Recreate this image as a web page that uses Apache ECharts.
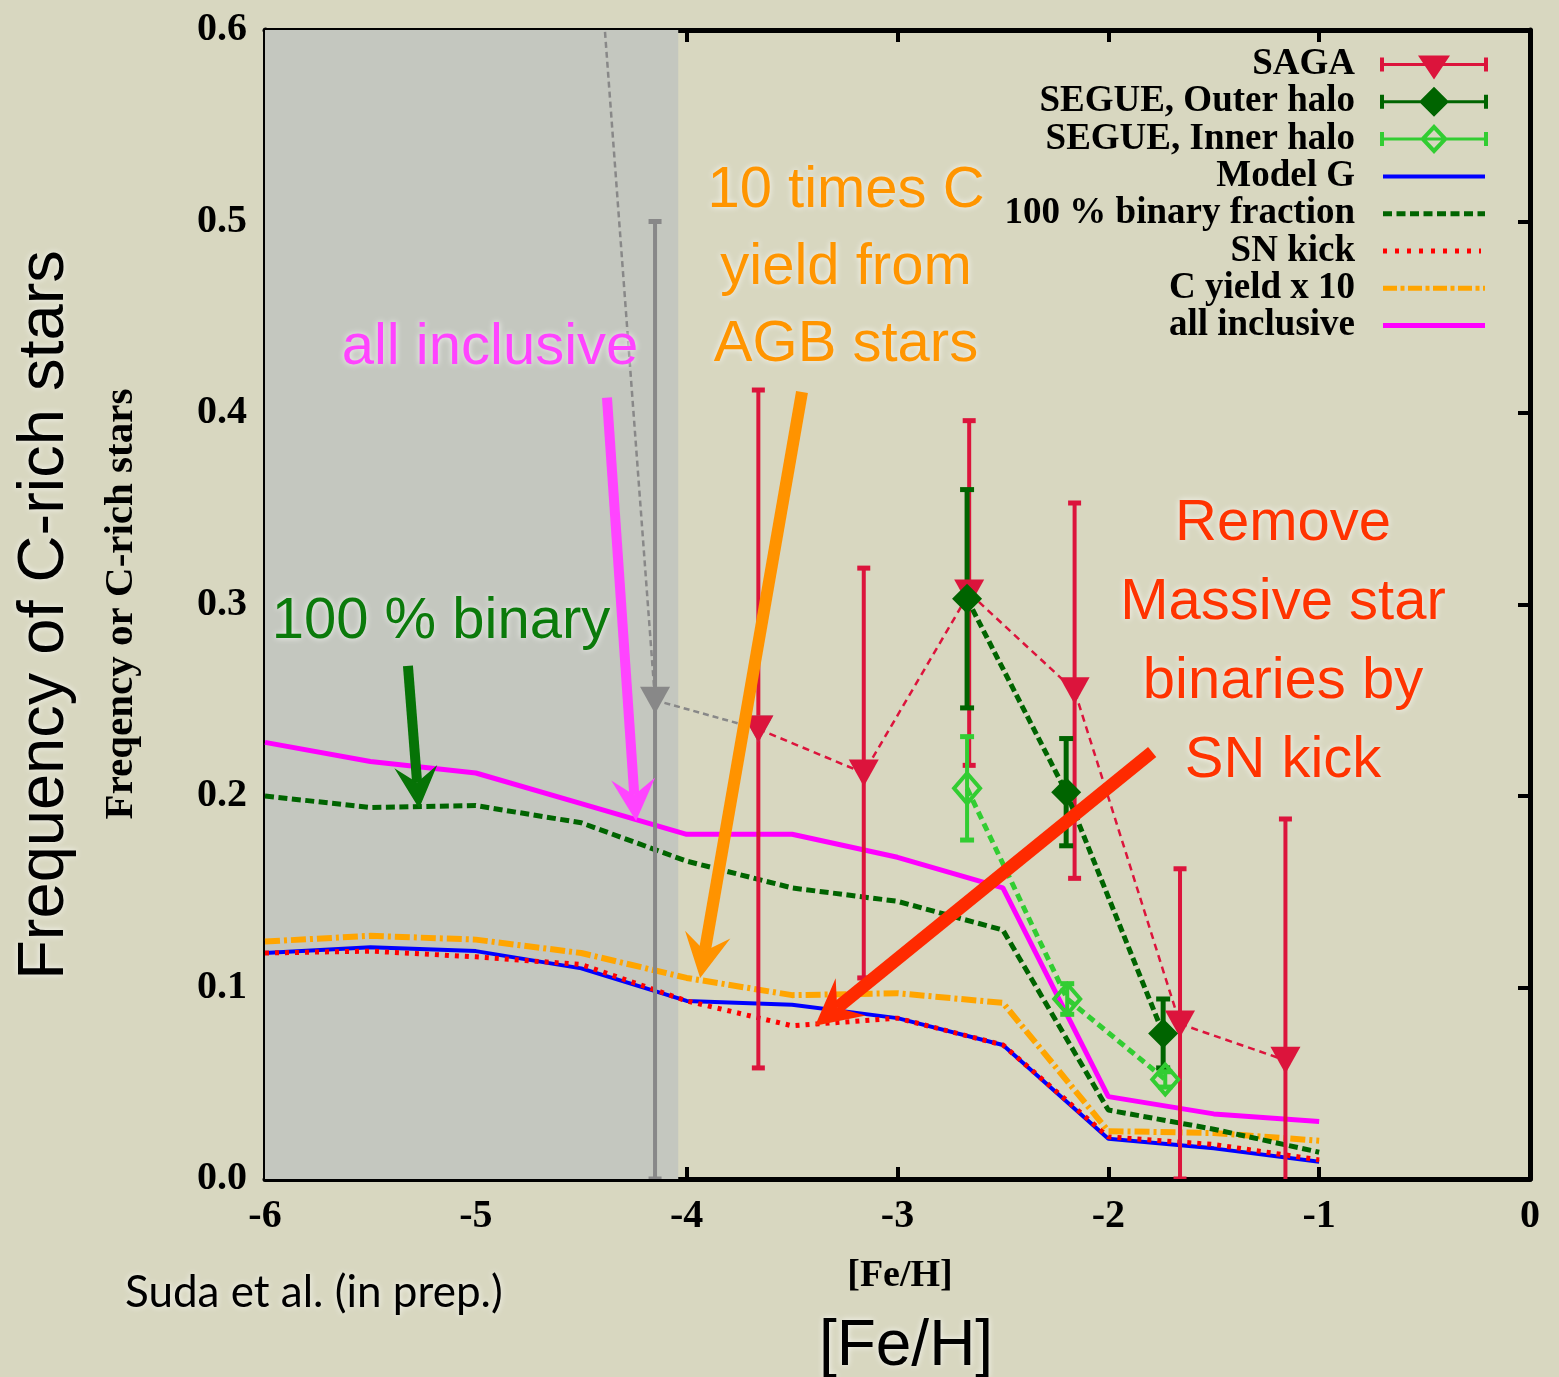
<!DOCTYPE html>
<html>
<head>
<meta charset="utf-8">
<title>Frequency of C-rich stars</title>
<script src="https://cdn.jsdelivr.net/npm/echarts@6/dist/echarts.min.js"></script>
<style>
  html, body { margin: 0; padding: 0; background: #d8d7c0; }
  #main { width: 1559px; height: 1377px; }
</style>
</head>
<body>
<div id="main"></div>
<script>
// ---- data ----
// model curves, [Fe/H] grid
const modelFeH = [-6, -5.5, -5, -4.5, -4, -3.5, -3, -2.5, -2, -1.5, -1];
const modelG = [0.118, 0.121, 0.119, 0.110, 0.093, 0.091, 0.084, 0.070, 0.021, 0.016, 0.009];
const binary100 = [0.200, 0.194, 0.195, 0.186, 0.166, 0.152, 0.145, 0.130, 0.036, 0.026, 0.014];
const snKick = [0.118, 0.119, 0.116, 0.112, 0.093, 0.080, 0.084, 0.070, 0.022, 0.018, 0.010];
const cYield10 = [0.124, 0.127, 0.125, 0.118, 0.105, 0.096, 0.097, 0.092, 0.025, 0.024, 0.020];
const allInclusive = [0.228, 0.218, 0.212, 0.196, 0.180, 0.180, 0.168, 0.152, 0.043, 0.034, 0.030];

// SAGA database
const sagaFeH = [-3.66, -3.16, -2.66, -2.16, -1.66, -1.16];
const sagaFrac = [0.235, 0.212, 0.306, 0.255, 0.081, 0.062];
const sagaErr = [0.177, 0.107, 0.090, 0.098, 0.081, 0.126];
// SAGA bins inside the shaded (uncertain) region
const sagaLowFeH = [-4.66, -4.15];
const sagaLowFrac = [1.0, 0.25];
const sagaLowErr = [0, 0.25];

// SEGUE
const outerFeH = [-2.67, -2.20, -1.74];
const outerFrac = [0.303, 0.202, 0.076];
const outerErr = [0.057, 0.028, 0.018];
const innerFeH = [-2.67, -2.195, -1.73];
const innerFrac = [0.204, 0.094, 0.052];
const innerErr = [0.027, 0.008, 0.004];

// shaded [Fe/H] range
const shadeFeH = [-6, -4.04];

// axis ticks
const xTicks = [-6, -5, -4, -3, -2, -1, 0];
const yTicks = [0, 0.1, 0.2, 0.3, 0.4, 0.5, 0.6];

// ---- chart ----
const chart = echarts.init(document.getElementById('main'));

const pairs = (xs, ys) => xs.map((x, i) => [x, ys[i]]);

function errorBars(name, xs, ys, errs, color, width, capW) {
    return {
        type: 'custom',
        name: name,
        z: 3,
        clip: true,
        silent: true,
        data: xs.map((x, i) => [x, ys[i] - errs[i], ys[i] + errs[i], errs[i]]),
        encode: { x: 0, y: [1, 2] },
        renderItem: function (params, api) {
            if (!api.value(3)) return null;
            const lo = api.coord([api.value(0), api.value(1)]);
            const hi = api.coord([api.value(0), api.value(2)]);
            return {
                type: 'group',
                children: [
                    { type: 'line', shape: { x1: lo[0], y1: lo[1], x2: hi[0], y2: hi[1] }, style: { stroke: color, lineWidth: width } },
                    { type: 'rect', shape: { x: hi[0] - capW / 2, y: hi[1] - 2.5, width: capW, height: 5 }, style: { fill: color } },
                    { type: 'rect', shape: { x: lo[0] - capW / 2, y: lo[1] - 2.5, width: capW, height: 5 }, style: { fill: color } }
                ]
            };
        }
    };
}

// legend icons (path units = pixels of a 128 x 30 icon)
const IW = 128, IH = 30, CY = 15;
const box = (x, y, w, h) => `M${x} ${y}h${w}v${h}h${-w}z`;
const frame = () => box(0, 0, 0.01, 0.01) + box(IW - 0.01, IH - 0.01, 0.01, 0.01);
function dashRow(pattern, x0, x1, th) {
    let s = '', x = x0, i = 0;
    while (x < x1 - 0.5) {
        const seg = pattern[i % pattern.length];
        if (i % 2 === 0) s += box(x, CY - th / 2, Math.min(seg, x1 - x), th);
        x += seg; i++;
    }
    return s;
}
const errIcon = marker => 'path://' + frame() + box(20, CY - 1.5, 108, 3) + box(20, CY - 7, 4, 14) + box(124, CY - 7, 4, 14) + marker;
const lineIcon = body => 'path://' + frame() + body;

const legendItems = [
    { name: 'SAGA', icon: errIcon('M58 6h32l-16 24z'), itemStyle: { color: '#dc143c' } },
    { name: 'SEGUE, Outer halo', icon: errIcon('M74 0l15 15l-15 15l-15 -15z'), itemStyle: { color: '#006400' } },
    { name: 'SEGUE, Inner halo', icon: errIcon('M74 0l14 15l-14 15l-14 -15z M74 6l-8.5 9l8.5 9l8.5 -9z'), itemStyle: { color: '#32cd32' } },
    { name: 'Model G', icon: lineIcon(box(23, CY - 2, 102, 4)), itemStyle: { color: '#0000ff' } },
    { name: '100 % binary fraction', icon: lineIcon(dashRow([9, 4.5], 23, 125, 5)), itemStyle: { color: '#006400' } },
    { name: 'SN kick', icon: lineIcon(dashRow([4, 8], 23, 121, 5)), itemStyle: { color: '#ff0000' } },
    { name: 'C yield x 10', icon: lineIcon(dashRow([14, 3.5, 4, 3.5], 23, 125, 5)), itemStyle: { color: '#ffa500' } },
    { name: 'all inclusive', icon: lineIcon(box(23, CY - 2.5, 102, 5)), itemStyle: { color: '#ff00ff' } }
];

const serif = 'Liberation Serif';
const sans = 'Liberation Sans';

function valueAxis(pos, min, max, interval, showLabel) {
    return {
        type: 'value', position: pos, min: min, max: max, interval: interval,
        axisLine: { show: true, onZero: false, lineStyle: { color: '#000', width: 5 } },
        axisTick: { show: true, inside: true, length: 12, lineStyle: { color: '#000', width: 4 } },
        splitLine: { show: false },
        axisLabel: {
            show: showLabel, margin: 18, fontFamily: serif, fontWeight: 'bold', fontSize: 40, color: '#000',
            formatter: (pos === 'left' || pos === 'right') ? v => v.toFixed(1) : v => String(v)
        }
    };
}

const modelLine = (name, data, color, width, type, z) => ({
    type: 'line', name: name, data: pairs(modelFeH, data), symbol: 'none', z: z,
    lineStyle: { color: color, width: width, type: type }, itemStyle: { color: color }
});

const option = {
    backgroundColor: '#d8d7c0',
    animation: false,
    grid: { left: 265, right: 29, top: 30, bottom: 198, outerBoundsMode: 'none' },
    xAxis: [
        valueAxis('bottom', xTicks[0], xTicks[xTicks.length - 1], 1, true),
        valueAxis('top', xTicks[0], xTicks[xTicks.length - 1], 1, false)
    ],
    yAxis: [
        valueAxis('left', yTicks[0], yTicks[yTicks.length - 1], 0.1, true),
        valueAxis('right', yTicks[0], yTicks[yTicks.length - 1], 0.1, false)
    ],
    legend: {
        orient: 'vertical', align: 'right', right: 71, top: 46, padding: 0,
        itemWidth: IW, itemHeight: IH, itemGap: 0.3,
        selectedMode: false,
        itemStyle: { borderWidth: 0 },
        textStyle: { fontFamily: serif, fontWeight: 'bold', fontSize: 37, color: '#000' },
        data: legendItems
    },
    series: [
        Object.assign(modelLine('Model G', modelG, '#0000ff', 4, 'solid', 2), {
            markArea: {
                silent: true,
                itemStyle: { color: '#c4c7bf' },
                label: { show: false },
                data: [[{ xAxis: shadeFeH[0] }, { xAxis: shadeFeH[1] }]]
            }
        }),
        modelLine('SN kick', snKick, '#ff0000', 5, [4, 6], 2),
        modelLine('C yield x 10', cYield10, '#ffa500', 6, [15, 4, 3, 4], 2),
        modelLine('100 % binary fraction', binary100, '#006400', 5, [9, 4.5], 2),
        modelLine('all inclusive', allInclusive, '#ff00ff', 5, 'solid', 2),

        errorBars('SAGA (low) err', sagaLowFeH, sagaLowFrac, sagaLowErr, '#888888', 4, 13),
        errorBars('SAGA err', sagaFeH, sagaFrac, sagaErr, '#dc143c', 4, 13),
        errorBars('Outer err', outerFeH, outerFrac, outerErr, '#006400', 5, 14),
        errorBars('Inner err', innerFeH, innerFrac, innerErr, '#32cd32', 4, 14),

        {
            type: 'line', name: 'SAGA (low)', z: 4, clip: true,
            data: pairs(sagaLowFeH, sagaLowFrac).concat([[sagaFeH[0], sagaFrac[0]]]),
            symbol: 'triangle', symbolRotate: 180, symbolSize: [30, 27],
            itemStyle: { color: '#888888' },
            lineStyle: { color: '#888888', width: 2.5, type: [6, 4] }
        },
        {
            type: 'line', name: 'SAGA', z: 4, clip: true,
            data: pairs(sagaFeH, sagaFrac),
            symbol: 'triangle', symbolRotate: 180, symbolSize: [30, 27],
            itemStyle: { color: '#dc143c' },
            lineStyle: { color: '#dc143c', width: 2.5, type: [7, 5] }
        },
        {
            type: 'line', name: 'SEGUE, Inner halo', z: 4, clip: true,
            data: pairs(innerFeH, innerFrac),
            symbol: 'diamond', symbolSize: [26, 30],
            itemStyle: { color: 'transparent', borderColor: '#32cd32', borderWidth: 4 },
            lineStyle: { color: '#32cd32', width: 5, type: [8, 5] }
        },
        {
            type: 'line', name: 'SEGUE, Outer halo', z: 4, clip: true,
            data: pairs(outerFeH, outerFrac),
            symbol: 'diamond', symbolSize: [30, 30],
            itemStyle: { color: '#006400' },
            lineStyle: { color: '#006400', width: 5, type: [8, 4] }
        }
    ]
};

chart.setOption(option);

// ---- annotations: arrows (data coordinates) and labels ----
const arrows = [
    { from: [-4.378, 0.408], to: [-4.240, 0.187], color: '#ff44ff', width: 10, head: 42, headW: 44 },
    { from: [-3.453, 0.411], to: [-3.936, 0.105], color: '#ff9300', width: 12, head: 44, headW: 46 },
    { from: [-5.322, 0.268], to: [-5.269, 0.1935], color: '#067306', width: 10, head: 42, headW: 43 },
    { from: [-1.792, 0.223], to: [-3.391, 0.080], color: '#ff2a00', width: 13, head: 46, headW: 48 }
];

function arrowShapes(a) {
    const p0 = chart.convertToPixel({ gridIndex: 0 }, a.from);
    const p1 = chart.convertToPixel({ gridIndex: 0 }, a.to);
    const dx = p1[0] - p0[0], dy = p1[1] - p0[1];
    const len = Math.hypot(dx, dy);
    const ux = dx / len, uy = dy / len, nx = -uy, ny = ux;
    const bx = p1[0] - ux * a.head, by = p1[1] - uy * a.head;
    const notch = [p1[0] - ux * a.head * 0.62, p1[1] - uy * a.head * 0.62];
    return [
        { type: 'line', z: 100, silent: true, shape: { x1: p0[0], y1: p0[1], x2: notch[0], y2: notch[1] }, style: { stroke: a.color, lineWidth: a.width } },
        { type: 'polygon', z: 100, silent: true, shape: { points: [p1, [bx + nx * a.headW / 2, by + ny * a.headW / 2], notch, [bx - nx * a.headW / 2, by - ny * a.headW / 2]] }, style: { fill: a.color } }
    ];
}

const glow = { textShadowColor: 'rgba(255,255,255,0.85)', textShadowBlur: 6 };
function label(text, x, y, color, size, family, extra) {
    return {
        type: 'text', z: 101, silent: true, x: x, y: y, rotation: (extra && extra.rotation) || 0,
        style: Object.assign({
            text: text, fill: color, fontSize: size, fontFamily: family,
            align: 'center', verticalAlign: 'middle'
        }, extra && extra.style)
    };
}

const graphics = [].concat(
    ...arrows.map(arrowShapes),
    [
        label('10 times C\nyield from\nAGB stars', 846, 268, '#ff9500', 58, sans, { style: Object.assign({ lineHeight: 77 }, glow) }),
        label('all inclusive', 490, 348, '#ff44ff', 58, sans, { style: glow }),
        label('100 % binary', 441, 622, '#0b7a0b', 58, sans, { style: glow }),
        label('Remove\nMassive star\nbinaries by\nSN kick', 1283, 642, '#ff3300', 58, sans, { style: Object.assign({ lineHeight: 79 }, glow) }),
        label('Frequency of C-rich stars', 45, 615, '#000', 65, sans, { rotation: Math.PI / 2, style: glow }),
        label('Freqency or C-rich stars', 121, 604, '#000', 41, serif, { rotation: Math.PI / 2, style: { fontWeight: 'bold' } }),
        label('[Fe/H]', 900, 1276, '#000', 38, serif, { style: { fontWeight: 'bold' } }),
        label('[Fe/H]', 906, 1347, '#000', 64, sans, { style: glow }),
        label('Suda et al. (in prep.)', 125, 1293, '#000', 44, 'Lato', { style: Object.assign({ align: 'left' }, glow) })
    ]
);

chart.setOption({ graphic: graphics });

window.addEventListener('resize', function () {
    chart.resize();
});
</script>
</body>
</html>
